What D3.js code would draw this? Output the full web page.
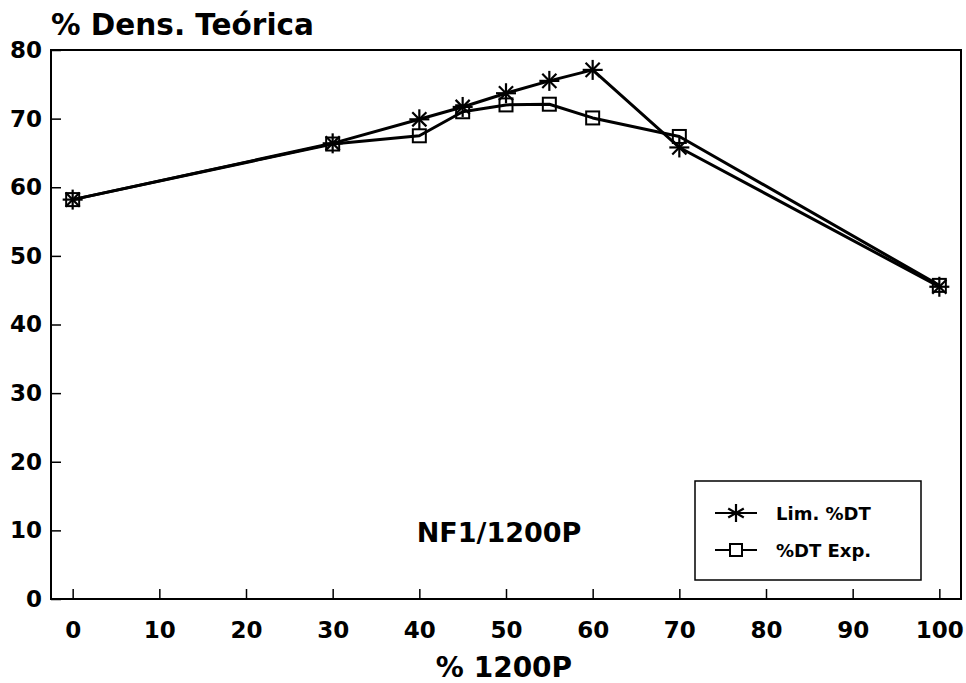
<!DOCTYPE html>
<html>
<head>
<meta charset="utf-8">
<script src="https://cdn.jsdelivr.net/npm/d3@7"></script>
<style>
  html, body { margin: 0; padding: 0; background: #fff; }
  svg text { font-family: "DejaVu Sans", sans-serif; fill: #000; }
</style>
</head>
<body>
<svg id="chart" width="966" height="683"></svg>
<script>
// % 1200P in the mixture
const xValues = [0, 30, 40, 45, 50, 55, 60, 70, 100];
// Theoretical density limit (%DT)
const limDT = [58.2, 66.4, 69.9, 71.7, 73.7, 75.5, 77.1, 65.8, 45.5];
// Experimental density (%DT)
const expDT = [58.2, 66.3, 67.5, 71.0, 72.0, 72.1, 70.1, 67.4, 45.7];

const xTicks = [0, 10, 20, 30, 40, 50, 60, 70, 80, 90, 100];
const yTicks = [0, 10, 20, 30, 40, 50, 60, 70, 80];
const seriesNames = ["Lim. %DT", "%DT Exp."];

const svg = d3.select("#chart");
const plotL = 51, plotR = 961, plotT = 50, plotB = 599;

const x = d3.scaleLinear().domain([-2.5, 102.5]).range([plotL, plotR]);
const y = d3.scaleLinear().domain([0, 80]).range([plotB, plotT]);

// Frame
svg.append("rect")
  .attr("x", plotL).attr("y", plotT)
  .attr("width", plotR - plotL).attr("height", plotB - plotT)
  .attr("fill", "none").attr("stroke", "#000").attr("stroke-width", 2);

// Y axis: ticks point inward
const yAxis = d3.axisLeft(y).tickValues(yTicks).tickSize(-10).tickPadding(9);
const gy = svg.append("g").attr("transform", `translate(${plotL},0)`).call(yAxis);
gy.select(".domain").remove();
gy.selectAll(".tick line").attr("stroke", "#000").attr("stroke-width", 1.5);
gy.selectAll(".tick text")
  .attr("font-size", 23).attr("font-weight", "bold")
  .attr("font-family", "DejaVu Sans, sans-serif").attr("fill", "#000");

// X axis: ticks point inward
const xAxis = d3.axisBottom(x).tickValues(xTicks).tickSize(-10).tickPadding(23);
const gx = svg.append("g").attr("transform", `translate(0,${plotB})`).call(xAxis);
gx.select(".domain").remove();
gx.selectAll(".tick line").attr("stroke", "#000").attr("stroke-width", 1.5);
gx.selectAll(".tick text")
  .attr("font-size", 23).attr("font-weight", "bold")
  .attr("font-family", "DejaVu Sans, sans-serif").attr("fill", "#000");

// Titles
svg.append("text").attr("x", 51).attr("y", 35)
  .attr("font-size", 29.5).attr("font-weight", "bold")
  .text("% Dens. Teórica");
svg.append("text").attr("x", 504).attr("y", 677).attr("text-anchor", "middle")
  .attr("font-size", 28).attr("font-weight", "bold")
  .text("% 1200P");
svg.append("text").attr("x", 499).attr("y", 542).attr("text-anchor", "middle")
  .attr("font-size", 27).attr("font-weight", "bold")
  .text("NF1/1200P");

// Marker drawers
function asterisk(g, cx, cy, r, arms) {
  const angles = arms === 8 ? [0, 45, 90, 135] : [90, 30, 150];
  angles.forEach(a => {
    const rad = a * Math.PI / 180;
    g.append("line")
      .attr("x1", cx - r * Math.cos(rad)).attr("y1", cy - r * Math.sin(rad))
      .attr("x2", cx + r * Math.cos(rad)).attr("y2", cy + r * Math.sin(rad))
      .attr("stroke", "#000").attr("stroke-width", 2.2);
  });
}
function square(g, cx, cy, s, fill) {
  g.append("rect")
    .attr("x", cx - s / 2).attr("y", cy - s / 2)
    .attr("width", s).attr("height", s)
    .attr("fill", fill).attr("stroke", "#000").attr("stroke-width", 2);
}

const line = d3.line().x(d => x(d[0])).y(d => y(d[1]));
const expPts = xValues.map((v, i) => [v, expDT[i]]);
const limPts = xValues.map((v, i) => [v, limDT[i]]);

// Experimental series
svg.append("path").datum(expPts).attr("d", line)
  .attr("fill", "none").attr("stroke", "#000").attr("stroke-width", 3)
  .attr("stroke-linejoin", "round");
const gExp = svg.append("g");
expPts.forEach(p => square(gExp, x(p[0]), y(p[1]), 13, "none"));

// Limit series
svg.append("path").datum(limPts).attr("d", line)
  .attr("fill", "none").attr("stroke", "#000").attr("stroke-width", 3)
  .attr("stroke-linejoin", "round");
const gLim = svg.append("g");
limPts.forEach(p => asterisk(gLim, x(p[0]), y(p[1]), 10, 8));

// Legend
const lg = svg.append("g");
lg.append("rect").attr("x", 695).attr("y", 481).attr("width", 226).attr("height", 99)
  .attr("fill", "#fff").attr("stroke", "#000").attr("stroke-width", 1.5);
const legendRows = [513, 550];
seriesNames.forEach((name, i) => {
  const ly = legendRows[i];
  lg.append("line").attr("x1", 715).attr("x2", 757).attr("y1", ly).attr("y2", ly)
    .attr("stroke", "#000").attr("stroke-width", 2);
  if (i === 0) asterisk(lg, 736, ly, 9, 6);
  else square(lg, 736, ly, 12, "#fff");
  lg.append("text").attr("x", 776).attr("y", ly + 6.5)
    .attr("font-size", 18).attr("font-weight", "bold").text(name);
});
</script>
</body>
</html>
